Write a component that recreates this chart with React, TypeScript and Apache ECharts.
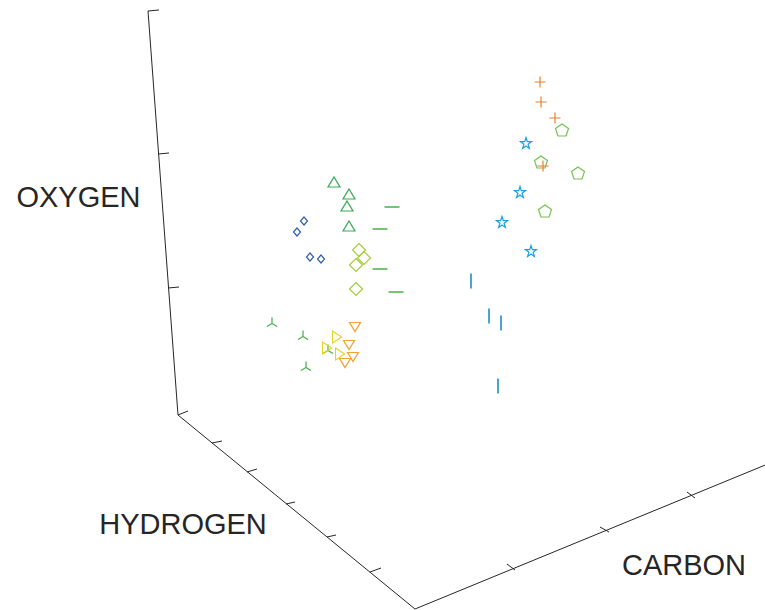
import React, { useEffect, useRef } from "react";
import * as echarts from "echarts";

// Points in the view plane (x to the right, y downward) of the 3-D scene.
const plusPts = [[540, 82], [541, 102], [555, 118], [543, 166]];
const pentagonPts = [[562, 130], [541, 162], [578, 173], [545, 211]];
const starPts = [[526, 143], [520, 192], [502, 222], [531, 251]];
const triUpPts = [[334, 182], [349, 194], [347, 206], [349, 226]];
const smallDiamondPts = [[304, 221], [297, 232], [310, 257], [321, 259]];
const diamondPts = [[359, 250], [364, 258], [356, 265], [356, 289]];
const dashPts = [[392, 207], [380, 229], [380, 269], [396, 292]];
const barPts = [[471, 281], [489, 316], [501, 323], [498, 386]];
const triDownPts = [[355, 327], [349, 345], [353, 357], [345, 363]];
const triRightPts = [[337, 337], [327, 348], [340, 354]];
const triSpokePts = [[272, 322], [303, 335], [328, 349], [306, 366]];

// Box edges of the 3-D axes
const oxygenAxis = [[148, 11], [178, 415]];
const hydrogenAxis = [[178, 415], [415, 609]];
const carbonAxis = [[415, 609], [775, 461]];

const oxygenTicks = [
  [[148, 11], [159, 10]],
  [[158, 154], [169, 153]],
  [[168, 288], [179, 287]],
  [[178, 415], [188, 411]],
];
const hydrogenTicks = [
  [[212, 443], [222, 441]],
  [[247, 472], [257, 469]],
  [[286, 504], [295, 502]],
  [[327, 537], [336, 535]],
  [[370, 572], [381, 568]],
];
const carbonTicks = [
  [[507, 564], [515, 570]],
  [[600, 527], [609, 532]],
  [[687, 492], [695, 498]],
];

const axisTitles = [
  { text: "OXYGEN", x: 78.5, y: 197 },
  { text: "HYDROGEN", x: 183, y: 524 },
  { text: "CARBON", x: 684, y: 565 },
];

const PENTAGON =
  "path://M10,0L19.511,6.91L15.878,18.09L4.122,18.09L0.489,6.91Z";
const STAR =
  "path://M10,0L12.245,6.91L19.511,6.91L13.633,11.18L15.878,18.09L10,13.82L4.122,18.09L6.367,11.18L0.489,6.91L7.755,6.91Z";
const PLUS = "path://M0,5L10,5M5,0L5,10";
const TRI_UP = "path://M5,0L10,10L0,10Z";
const TRI_DOWN = "path://M0,0L10,0L5,10Z";
const TRI_RIGHT = "path://M0,0L10,5L0,10Z";
const TRI_SPOKE = "path://M5,0L5,5L0.67,7.5M5,5L9.33,7.5";

const AXIS_COLOR = "#262626";

function outlined(data: number[][], symbol: string, size: number[], color: string) {
  return {
    type: "scatter",
    data,
    symbol,
    symbolSize: size,
    silent: true,
    itemStyle: { color: "rgba(0,0,0,0)", borderColor: color, borderWidth: 1.2, opacity: 1 },
  };
}

function solid(data: number[][], size: number[], color: string) {
  return {
    type: "scatter",
    data,
    symbol: "rect",
    symbolSize: size,
    silent: true,
    itemStyle: { color, opacity: 1 },
  };
}

function segments(list: number[][][], width: number) {
  return {
    type: "lines",
    coordinateSystem: "cartesian2d",
    polyline: true,
    silent: true,
    data: list.map((coords) => ({ coords })),
    lineStyle: { color: AXIS_COLOR, width, opacity: 1 },
  };
}

export default function App() {
  const ref = useRef<HTMLDivElement>(null);

  useEffect(() => {
    if (!ref.current) return;
    const chart = echarts.init(ref.current, undefined, { renderer: "svg" });
    chart.setOption({
      animation: false,
      backgroundColor: "#ffffff",
      grid: { left: 0, right: 0, top: 0, bottom: 0 },
      xAxis: { type: "value", min: 0, max: 765, show: false },
      yAxis: { type: "value", min: 0, max: 610, inverse: true, show: false },
      series: [
        segments([oxygenAxis, hydrogenAxis, carbonAxis], 1),
        segments([...oxygenTicks, ...hydrogenTicks, ...carbonTicks], 1),
        solid(barPts, [1.6, 15], "#1E8BCB"),
        solid(dashPts, [15, 1.6], "#58B556"),
        outlined(smallDiamondPts, "diamond", [7, 8], "#2A5CAA"),
        outlined(diamondPts, "diamond", [13, 13], "#A3CD3B"),
        outlined(triUpPts, TRI_UP, [12, 10], "#3CAA5B"),
        outlined(triSpokePts, TRI_SPOKE, [10, 9], "#4DB04E"),
        outlined(triDownPts, TRI_DOWN, [11, 9], "#F2A237"),
        outlined(triRightPts, TRI_RIGHT, [9, 12], "#E3D51C"),
        outlined(pentagonPts, PENTAGON, [13, 12], "#77C254"),
        outlined(starPts, STAR, [11, 11], "#1BA1DF"),
        outlined(plusPts, PLUS, [11, 11], "#E8812C"),
      ],
      graphic: axisTitles.map((t) => ({
        type: "text",
        x: t.x,
        y: t.y,
        silent: true,
        style: {
          text: t.text,
          fontSize: 29,
          fontFamily: '"Liberation Sans", Arial, sans-serif',
          fill: AXIS_COLOR,
          align: "center",
          verticalAlign: "middle",
        },
      })),
    });
    return () => chart.dispose();
  }, []);

  return (
    <div
      ref={ref}
      style={{ position: "absolute", left: 0, top: 0, width: 765, height: 610 }}
    />
  );
}
